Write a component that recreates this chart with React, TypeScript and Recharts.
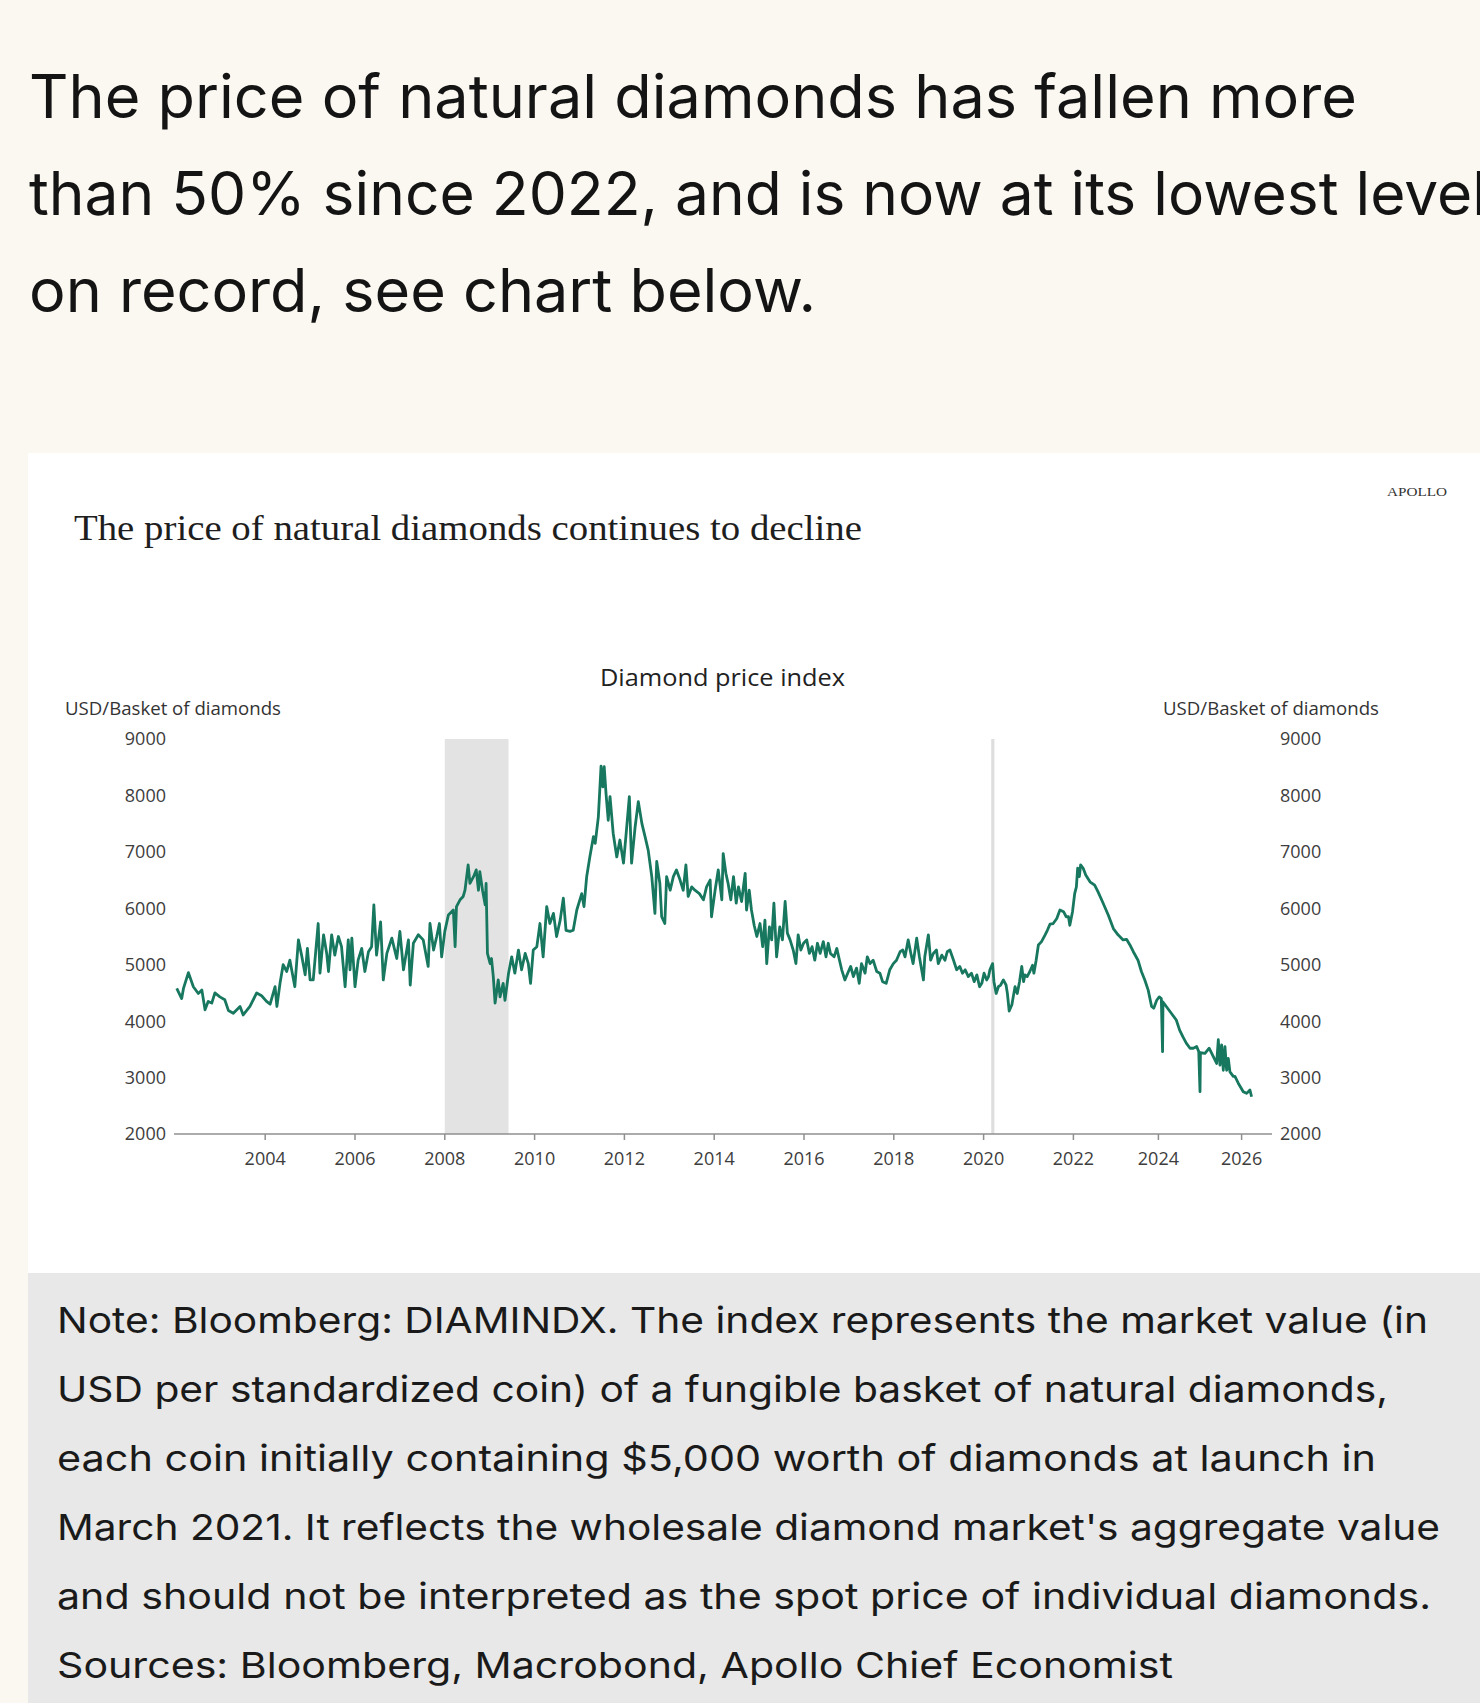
import React from "react";
import { LineChart, Line, XAxis, YAxis, ReferenceArea } from "recharts";

// Diamond price index (USD per basket)
const tickYears = [2004, 2006, 2008, 2010, 2012, 2014, 2016, 2018, 2020, 2022, 2024, 2026];
const priceTicks = [2000, 3000, 4000, 5000, 6000, 7000, 8000, 9000];

const prices2002to2008: [number, number][] = [
  [2002.03, 4580], [2002.14, 4400], [2002.18, 4580], [2002.29, 4860], [2002.4, 4610],
  [2002.51, 4490], [2002.59, 4550], [2002.66, 4200], [2002.73, 4350], [2002.81, 4320],
  [2002.88, 4500], [2002.99, 4430], [2003.1, 4380], [2003.18, 4190], [2003.29, 4140],
  [2003.44, 4260], [2003.51, 4110], [2003.66, 4260], [2003.81, 4500], [2003.92, 4450],
  [2004.03, 4350], [2004.11, 4300], [2004.22, 4610], [2004.26, 4260], [2004.33, 4670],
  [2004.4, 5000], [2004.48, 4880], [2004.55, 5080], [2004.66, 4610], [2004.74, 5440],
  [2004.81, 5170], [2004.89, 4820], [2004.94, 5290], [2005.0, 4730], [2005.07, 4730],
  [2005.18, 5730], [2005.22, 4850], [2005.3, 5530], [2005.37, 5200], [2005.41, 4880],
  [2005.48, 5530], [2005.55, 5170], [2005.63, 5500], [2005.7, 5320], [2005.78, 4610],
  [2005.85, 5440], [2005.89, 4910], [2005.93, 5470], [2006.0, 4610], [2006.07, 5080],
  [2006.15, 5290], [2006.22, 4880], [2006.3, 5230], [2006.37, 5320], [2006.42, 6060],
  [2006.48, 5170], [2006.57, 5760], [2006.63, 4730], [2006.71, 5200], [2006.82, 5470],
  [2006.93, 5110], [2007.0, 5590], [2007.08, 4910], [2007.19, 5440], [2007.23, 4640],
  [2007.3, 5380], [2007.41, 5530], [2007.52, 5440], [2007.63, 4970], [2007.67, 5730],
  [2007.75, 5260], [2007.82, 5500], [2007.88, 5730], [2007.93, 5140], [2008.0, 5590],
  [2008.08, 5880],
];

const prices2008to2014: [number, number][] = [
  [2008.19, 5970], [2008.23, 5320], [2008.26, 6030], [2008.34, 6150], [2008.41, 6210],
  [2008.45, 6320], [2008.52, 6770], [2008.56, 6440], [2008.64, 6560], [2008.7, 6680],
  [2008.75, 6320], [2008.78, 6650], [2008.84, 6320], [2008.9, 6060], [2008.92, 6440],
  [2008.95, 5200], [2009.01, 5020], [2009.04, 5110], [2009.08, 4790], [2009.12, 4320],
  [2009.19, 4730], [2009.23, 4430], [2009.3, 4670], [2009.34, 4370], [2009.42, 4850],
  [2009.49, 5140], [2009.56, 4850], [2009.64, 5260], [2009.71, 4910], [2009.79, 5200],
  [2009.86, 5020], [2009.91, 4670], [2009.97, 5260], [2010.05, 5320], [2010.12, 5730],
  [2010.19, 5140], [2010.27, 6030], [2010.34, 5730], [2010.42, 5910], [2010.49, 5500],
  [2010.57, 5790], [2010.64, 6180], [2010.7, 5610], [2010.79, 5590], [2010.86, 5610],
  [2010.94, 5970], [2011.05, 6260], [2011.1, 6030], [2011.16, 6560], [2011.23, 6910],
  [2011.31, 7270], [2011.35, 7150], [2011.42, 7620], [2011.48, 8520], [2011.52, 8150],
  [2011.55, 8510], [2011.59, 8040], [2011.64, 7560], [2011.68, 7980], [2011.75, 7330],
  [2011.83, 6910], [2011.9, 7210], [2011.98, 6800], [2012.04, 7330], [2012.11, 7980],
  [2012.16, 6800], [2012.24, 7450], [2012.31, 7890], [2012.39, 7500], [2012.46, 7270],
  [2012.53, 7030], [2012.61, 6560], [2012.68, 5910], [2012.72, 6830], [2012.79, 6440],
  [2012.83, 5850], [2012.9, 5730], [2012.94, 6560], [2013.02, 6320], [2013.09, 6560],
  [2013.16, 6680], [2013.24, 6500], [2013.31, 6320], [2013.37, 6770], [2013.42, 6210],
  [2013.5, 6380], [2013.57, 6320], [2013.67, 6260], [2013.76, 6150], [2013.83, 6380],
];

const prices2014to2020: [number, number][] = [
  [2013.91, 6500], [2013.94, 5850], [2014.02, 6320], [2014.09, 6680], [2014.17, 6150],
  [2014.2, 6970], [2014.26, 6620], [2014.31, 6440], [2014.37, 6150], [2014.43, 6560],
  [2014.49, 6090], [2014.54, 6380], [2014.61, 6120], [2014.69, 6620], [2014.72, 5970],
  [2014.78, 6320], [2014.83, 5970], [2014.89, 5700], [2014.95, 5500], [2015.02, 5730],
  [2015.08, 5320], [2015.13, 5790], [2015.17, 5020], [2015.23, 5670], [2015.28, 5440],
  [2015.33, 6090], [2015.39, 5140], [2015.46, 5670], [2015.52, 5440], [2015.58, 6120],
  [2015.63, 5560], [2015.69, 5440], [2015.76, 5260], [2015.82, 5020], [2015.87, 5530],
  [2015.93, 5260], [2015.99, 5380], [2016.06, 5440], [2016.12, 5200], [2016.18, 5320],
  [2016.24, 5080], [2016.3, 5380], [2016.36, 5200], [2016.43, 5410], [2016.49, 5140],
  [2016.54, 5380], [2016.59, 5200], [2016.67, 5140], [2016.73, 5290], [2016.79, 5080],
  [2016.84, 4910], [2016.91, 4730], [2016.99, 4880], [2017.04, 4970], [2017.1, 4790],
  [2017.17, 4940], [2017.23, 4670], [2017.28, 5020], [2017.36, 4850], [2017.41, 5140],
  [2017.47, 5020], [2017.54, 5080], [2017.62, 4880], [2017.69, 4850], [2017.75, 4700],
  [2017.83, 4670], [2017.91, 4910], [2017.99, 5020], [2018.06, 5080], [2018.14, 5230],
  [2018.2, 5260], [2018.25, 5140], [2018.32, 5440], [2018.38, 5200], [2018.43, 5020],
  [2018.51, 5470], [2018.57, 5140], [2018.66, 4730], [2018.69, 5140], [2018.77, 5530],
  [2018.82, 5080], [2018.88, 5200], [2018.95, 5260], [2018.99, 5020], [2019.07, 5170],
  [2019.14, 5080], [2019.19, 5230], [2019.25, 5260], [2019.33, 5080], [2019.4, 4910],
  [2019.47, 4970], [2019.53, 4850], [2019.59, 4910], [2019.66, 4790], [2019.73, 4850],
  [2019.79, 4700], [2019.85, 4820], [2019.91, 4610], [2019.96, 4670], [2020.01, 4850],
  [2020.07, 4730],
];

const prices2020to2026: [number, number][] = [
  [2020.11, 4790], [2020.14, 4910], [2020.2, 5020], [2020.23, 4700], [2020.28, 4490],
  [2020.33, 4610], [2020.38, 4640], [2020.44, 4730], [2020.5, 4640], [2020.53, 4490],
  [2020.57, 4180], [2020.63, 4290], [2020.66, 4430], [2020.7, 4610], [2020.75, 4490],
  [2020.8, 4700], [2020.85, 4970], [2020.89, 4700], [2020.92, 4820], [2020.97, 4790],
  [2021.03, 4880], [2021.09, 4990], [2021.12, 4850], [2021.17, 5080], [2021.22, 5350],
  [2021.29, 5410], [2021.37, 5530], [2021.42, 5610], [2021.48, 5720], [2021.55, 5730],
  [2021.63, 5820], [2021.7, 5970], [2021.78, 5940], [2021.84, 5850], [2021.89, 5850],
  [2021.92, 5700], [2021.98, 5940], [2022.03, 6260], [2022.07, 6380], [2022.1, 6710],
  [2022.14, 6560], [2022.17, 6770], [2022.23, 6710], [2022.29, 6590], [2022.39, 6470],
  [2022.5, 6410], [2022.58, 6290], [2022.7, 6090], [2022.82, 5880], [2022.94, 5640],
  [2023.05, 5530], [2023.17, 5440], [2023.25, 5450], [2023.33, 5350], [2023.41, 5230],
  [2023.52, 5080], [2023.6, 4880], [2023.68, 4730], [2023.76, 4550], [2023.84, 4260],
  [2023.89, 4230], [2023.96, 4370], [2024.02, 4430], [2024.07, 4400], [2024.1, 3460],
  [2024.11, 4340], [2024.19, 4260], [2024.31, 4140], [2024.43, 4020], [2024.51, 3840],
  [2024.59, 3720], [2024.67, 3610], [2024.76, 3520], [2024.84, 3520], [2024.92, 3550],
  [2024.97, 3460], [2025.0, 2750], [2025.01, 3440], [2025.12, 3430], [2025.22, 3520],
  [2025.32, 3370], [2025.4, 3250], [2025.44, 3670], [2025.48, 3220], [2025.52, 3580],
  [2025.56, 3130], [2025.6, 3550], [2025.64, 3130], [2025.68, 3340], [2025.72, 3100],
  [2025.8, 3020], [2025.84, 3020], [2025.92, 2900], [2026.04, 2750], [2026.12, 2720],
  [2026.16, 2750], [2026.2, 2780], [2026.24, 2660],
];

const headline = [
  "The price of natural diamonds has fallen more",
  "than 50% since 2022, and is now at its lowest level",
  "on record, see chart below.",
];

const noteLines = [
  "Note: Bloomberg: DIAMINDX. The index represents the market value (in",
  "USD per standardized coin) of a fungible basket of natural diamonds,",
  "each coin initially containing $5,000 worth of diamonds at launch in",
  "March 2021. It reflects the wholesale diamond market's aggregate value",
  "and should not be interpreted as the spot price of individual diamonds.",
  "Sources: Bloomberg, Macrobond, Apollo Chief Economist",
];

// the source chart's time axis is slightly compressed after 2022
const warpYears = [2000, 2020, 2022, 2024, 2026, 2028];
const warpUnits = [2000, 2020, 2022, 2023.893, 2025.746, 2027.6];

function warp(year: number) {
  for (let i = 1; i < warpYears.length; i++) {
    if (year <= warpYears[i]) {
      const t = (year - warpYears[i - 1]) / (warpYears[i] - warpYears[i - 1]);
      return warpUnits[i - 1] + t * (warpUnits[i] - warpUnits[i - 1]);
    }
  }
  return year;
}

const data = [...prices2002to2008, ...prices2008to2014, ...prices2014to2020, ...prices2020to2026].map(
  ([year, price]) => ({ t: warp(year), price })
);

const green = "#17785f";
const axisGrey = "#8f8f8f";
const tickText = { fill: "#3d3d3d", fontSize: 18, fontFamily: "Open Sans" };

export default function App() {
  return (
    <div
      style={{
        position: "absolute",
        left: 0,
        top: 0,
        width: 1480,
        height: 1703,
        background: "#fbf8f2",
        overflow: "hidden",
      }}
    >
      <div style={{ position: "absolute", left: 28, top: 453, width: 1452, height: 820, background: "#ffffff" }} />
      <div style={{ position: "absolute", left: 28, top: 1273, width: 1452, height: 430, background: "#e8e8e8" }} />

      <div style={{ position: "absolute", left: 28, top: 700 }}>
        <LineChart width={1452} height={500} data={data} margin={{ top: 39, right: 148, bottom: 26, left: 86 }}>
          <ReferenceArea
            yAxisId="left"
            x1={warp(2008.0)}
            x2={warp(2009.42)}
            y1={2000}
            y2={9000}
            fill="#e3e3e3"
            fillOpacity={1}
            stroke="none"
          />
          <ReferenceArea
            yAxisId="left"
            x1={warp(2020.17)}
            x2={warp(2020.24)}
            y1={2000}
            y2={9000}
            fill="#dedede"
            fillOpacity={1}
            stroke="none"
          />
          <XAxis
            type="number"
            dataKey="t"
            domain={[2001.969, 2026.423]}
            allowDataOverflow
            ticks={tickYears.map(warp)}
            tickFormatter={(v: number) => {
              const y = tickYears.find((yr) => Math.abs(warp(yr) - v) < 0.01);
              return y ? String(y) : "";
            }}
            tick={tickText}
            tickMargin={12}
            axisLine={{ stroke: axisGrey, strokeWidth: 1.5 }}
            tickLine={{ stroke: axisGrey, strokeWidth: 1.5 }}
            height={40}
          />
          <YAxis
            yAxisId="left"
            domain={[2000, 9000]}
            ticks={priceTicks}
            allowDataOverflow
            axisLine={false}
            tickLine={false}
            tick={tickText}
            width={60}
          />
          <YAxis
            yAxisId="right"
            orientation="right"
            domain={[2000, 9000]}
            ticks={priceTicks}
            allowDataOverflow
            axisLine={false}
            tickLine={false}
            tick={{ ...tickText, textAnchor: "start" }}
            width={60}
          />
          <Line
            yAxisId="right"
            dataKey="price"
            stroke="none"
            dot={false}
            activeDot={false}
            isAnimationActive={false}
          />
          <Line
            yAxisId="left"
            type="linear"
            dataKey="price"
            stroke={green}
            strokeWidth={2.8}
            strokeLinejoin="round"
            dot={false}
            activeDot={false}
            isAnimationActive={false}
          />
        </LineChart>
      </div>

      <svg
        width={1480}
        height={1703}
        style={{ position: "absolute", left: 0, top: 0, pointerEvents: "none" }}
      >
        <g fontFamily="Inter" fill="#141414" fontSize={60}>
          <text x={29} y={118} textLength={1328} lengthAdjust="spacingAndGlyphs">
            {headline[0]}
          </text>
          <text x={29} y={215} textLength={1458} lengthAdjust="spacingAndGlyphs">
            {headline[1]}
          </text>
          <text x={29} y={312} textLength={787} lengthAdjust="spacingAndGlyphs">
            {headline[2]}
          </text>
        </g>

        <text x={1387} y={496} fontFamily="Liberation Serif" fontSize={13} fill="#333" textLength={60} lengthAdjust="spacingAndGlyphs">
          APOLLO
        </text>
        <text x={74} y={540} fontFamily="Liberation Serif" fontSize={36} fill="#1e1e1e" textLength={788} lengthAdjust="spacingAndGlyphs">
          The price of natural diamonds continues to decline
        </text>
        <text x={600} y={686} fontFamily="Open Sans" fontSize={24.5} fill="#222" textLength={245} lengthAdjust="spacingAndGlyphs">
          Diamond price index
        </text>
        <text x={65} y={715} fontFamily="Open Sans" fontSize={18} fill="#333" textLength={216} lengthAdjust="spacingAndGlyphs">
          USD/Basket of diamonds
        </text>
        <text x={1163} y={715} fontFamily="Open Sans" fontSize={18} fill="#333" textLength={216} lengthAdjust="spacingAndGlyphs">
          USD/Basket of diamonds
        </text>

        <g fontFamily="Inter" fill="#1a1a1a" fontSize={36}>
          {noteLines.map((line, i) => {
            const ends = [1428, 1388, 1376, 1440, 1431, 1173];
            return (
              <text key={i} x={57} y={1333 + i * 68.9} textLength={ends[i] - 57} lengthAdjust="spacingAndGlyphs">
                {line}
              </text>
            );
          })}
        </g>
      </svg>
    </div>
  );
}
